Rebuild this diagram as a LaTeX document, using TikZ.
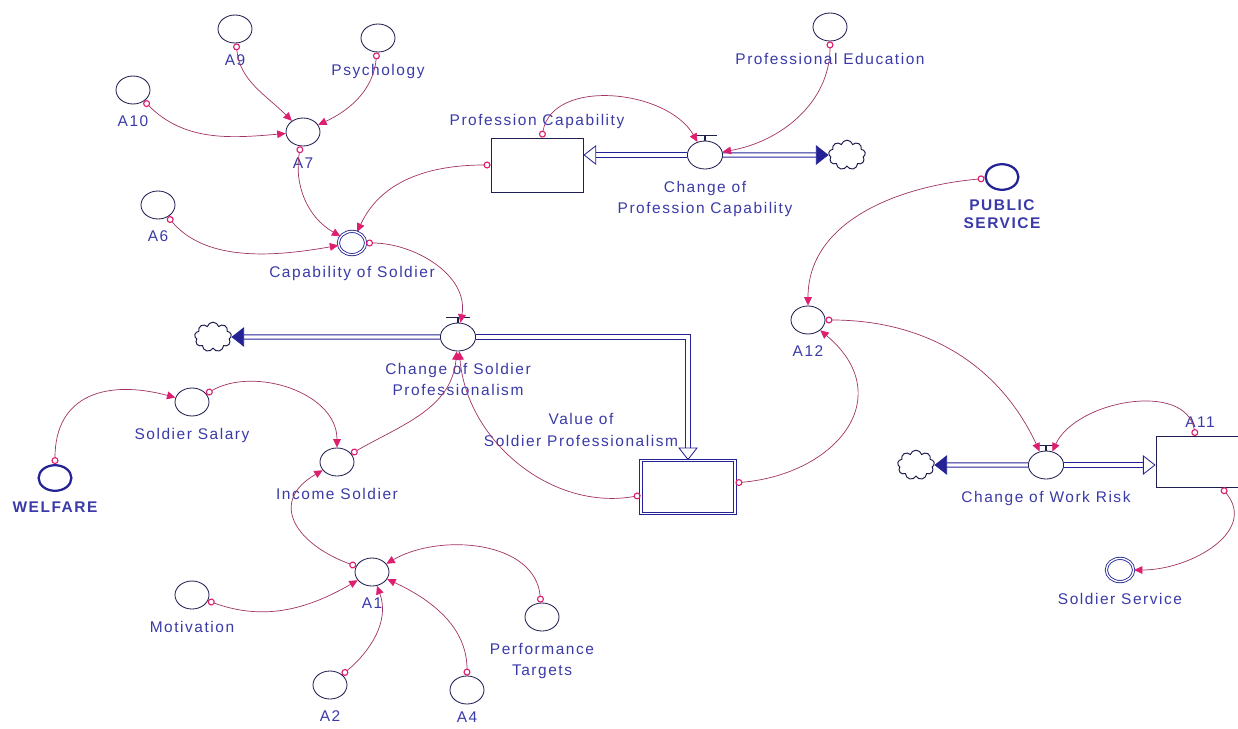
\documentclass[tikz,border=0pt]{standalone}
\usepackage{fontspec}
\setmainfont{Liberation Sans}[LetterSpace=10]
\usetikzlibrary{positioning,shapes.geometric,shapes.symbols,arrows.meta}

\definecolor{txtc}{RGB}{58,58,168}
\definecolor{linkc}{RGB}{160,50,100}
\definecolor{tipc}{RGB}{222,30,110}
\definecolor{iconc}{RGB}{30,30,80}
\definecolor{flowc}{RGB}{35,35,150}

\begin{document}
\begin{tikzpicture}[
    x=0.025cm, y=0.025cm,
    font=\fontsize{11}{15}\selectfont,
    aux/.style={ellipse, draw=iconc, line width=0.6pt, minimum width=0.85cm, minimum height=0.7cm, inner sep=0pt},
    valve/.style={aux, minimum width=0.88cm},
    conv/.style={aux, draw=flowc, double, double distance=1pt, minimum width=0.68cm, minimum height=0.58cm},
    ext/.style={aux, draw=flowc, line width=1.6pt, minimum width=0.82cm, minimum height=0.64cm},
    stockbox/.style={rectangle, draw=iconc, line width=0.6pt, minimum width=2.3cm, minimum height=1.35cm},
    sink/.style={cloud, cloud puffs=9, aspect=1.2, draw=iconc, line width=0.7pt, minimum width=0.92cm, minimum height=0.74cm, inner sep=0pt},
    lbl/.style={text=txtc, inner sep=1pt, align=center},
    blbl/.style={lbl, font=\fontsize{11}{13}\selectfont\bfseries},
    link/.style={draw=linkc, line width=0.5pt, {Circle[open, length=5pt, color=tipc, line width=0.8pt]}-{Triangle[length=6pt, width=5.5pt, color=tipc]}},
    flow/.style={draw=flowc, line width=0.6pt, double=white, double distance=2.4pt}
]
    \useasboundingbox (0,0) rectangle (1238,-729);

    % auxiliaries and constants
    \node[aux] (a9) at (235,-29) {};
    \node[aux] (psy) at (378,-38) {};
    \node[aux] (a10) at (133,-90) {};
    \node[aux] (a7) at (303,-132) {};
    \node[aux] (a6) at (158,-205) {};
    \node[conv] (cap) at (352,-243) {};
    \node[aux] (profedu) at (830,-27) {};
    \node[ext] (public) at (1002,-177) {};
    \node[aux] (a12) at (808,-320) {};
    \node[aux] (ssal) at (192,-402) {};
    \node[aux] (inc) at (337,-462) {};
    \node[ext] (welfare) at (55,-478) {};
    \node[aux] (a1) at (372,-572) {};
    \node[aux] (motiv) at (192,-595) {};
    \node[aux] (a2) at (330,-685) {};
    \node[aux] (a4) at (467,-690) {};
    \node[aux] (perf) at (542,-617) {};
    \node[conv] (ssv) at (1120,-570) {};

    % stocks, valves and clouds
    \node[stockbox] (pcap) at (537,-165) {};
    \node[stockbox, double, double distance=1.2pt, draw=flowc, minimum width=2.35cm, minimum height=1.32cm] (vsp) at (688,-487) {};
    \node[stockbox, minimum width=2.2cm, minimum height=1.28cm] (wr) at (1200,-462) {};
    \node[valve] (cpc) at (705,-155) {};
    \node[valve] (cosp) at (458,-337) {};
    \node[valve] (cwr) at (1046,-465) {};
    \node[sink] (cl1) at (847,-155) {};
    \node[sink] (cl2) at (213,-337) {};
    \node[sink] (cl3) at (916,-465) {};

    % labels
    \node[lbl, below=7pt of a9] (la9) {A9};
    \node[lbl, below=7pt of psy] (lpsy) {Psychology};
    \node[lbl, below=7pt of a10] (la10) {A10};
    \node[lbl, below=7pt of a7] (la7) {A7};
    \node[lbl, below=7pt of a6] (la6) {A6};
    \node[lbl, below=7pt of cap] (lcap) {Capability of Soldier};
    \node[lbl, below=7pt of profedu] (lprofedu) {Professional Education};
    \node[blbl, below=5pt of public] (lpublic) {PUBLIC\\SERVICE};
    \node[lbl, below=7pt of a12] (la12) {A12};
    \node[lbl, below=7pt of ssal] (lssal) {Soldier Salary};
    \node[lbl, below=7pt of inc] (linc) {Income Soldier};
    \node[blbl, below=6pt of welfare] (lwelfare) {WELFARE};
    \node[lbl, below=7pt of a1] (la1) {A1};
    \node[lbl, below=7pt of motiv] (lmotiv) {Motivation};
    \node[lbl, below=7pt of a2] (la2) {A2};
    \node[lbl, below=4pt of a4] (la4) {A4};
    \node[lbl, below=7pt of perf] (lperf) {Performance\\Targets};
    \node[lbl, below=7pt of ssv] (lssv) {Soldier Service};
    \node[lbl, below=7pt of cpc] (lcpc) {Change of\\Profession Capability};
    \node[lbl, below=7pt of cosp] (lcosp) {Change of Soldier\\Professionalism};
    \node[lbl, below=7pt of cwr] (lcwr) {Change of Work Risk};
    \node[lbl, above=5pt of pcap] (lpcap) {Profession Capability};
    \node[lbl, above=5pt of wr] (lwr) {A11};
    \node[lbl] (lvsp) at (581,-430) {Value of\\Soldier Professionalism};

    % valve handles
    \foreach \v in {cpc,cosp,cwr}
        \draw[iconc, line width=1.1pt] (\v.north) -- ++(0,5) ++(-12,0) -- ++(24,0);

    % flows
    \draw[flow, -{Triangle[open, length=9pt, width=14pt]}] (cpc.west) -- (cpc.west -| pcap.east);
    \draw[flow, -{Triangle[length=9pt, width=14pt]}] (cpc.east) -- (cl1.west);
    \draw[flow, -{Triangle[length=9pt, width=14pt]}] (cosp.west) -- (cl2.east);
    \draw[flow, -{Triangle[open, length=9pt, width=14pt]}] (cosp.east) -| (vsp.north);
    \draw[flow, -{Triangle[length=9pt, width=14pt]}] (cwr.west) -- (cl3.east);
    \draw[flow, -{Triangle[open, length=9pt, width=14pt]}] (cwr.east) -- (cwr.east -| wr.west);

    % connectors
    \path[link]
        (a10) edge[out=-45, in=185] (a7)
        (a9) edge[out=-85, in=135] (a7)
        (psy) edge[out=-95, in=25] (a7)
        (a7) edge[out=-100, in=150] (cap)
        (a6) edge[out=-50, in=190, looseness=0.9] (cap)
        (pcap) edge[out=180, in=65] (cap)
        (pcap) edge[out=80, in=120] (cpc)
        (profedu) edge[out=-90, in=10] (cpc)
        (cap) edge[out=0, in=80] (cosp)
        (inc) edge[out=30, in=-95] (cosp)
        (vsp) edge[out=190, in=-85] (cosp)
        (vsp) edge[out=5, in=-40, looseness=1.5] (a12)
        (public) edge[out=185, in=90] (a12)
        (a12) edge[out=0, in=115] (cwr)
        (wr) edge[out=100, in=65] (cwr)
        (wr) edge[out=-50, in=0, looseness=1.2] (ssv)
        (welfare) edge[out=90, in=165, looseness=1.3] (ssal)
        (ssal) edge[out=30, in=90] (inc)
        (a1) edge[out=160, in=-150, looseness=1.6] (inc)
        (motiv) edge[out=-20, in=210] (a1)
        (a2) edge[out=40, in=-70] (a1)
        (a4) edge[out=90, in=-25] (a1)
        (perf) edge[out=95, in=30] (a1);
\end{tikzpicture}
\end{document}
